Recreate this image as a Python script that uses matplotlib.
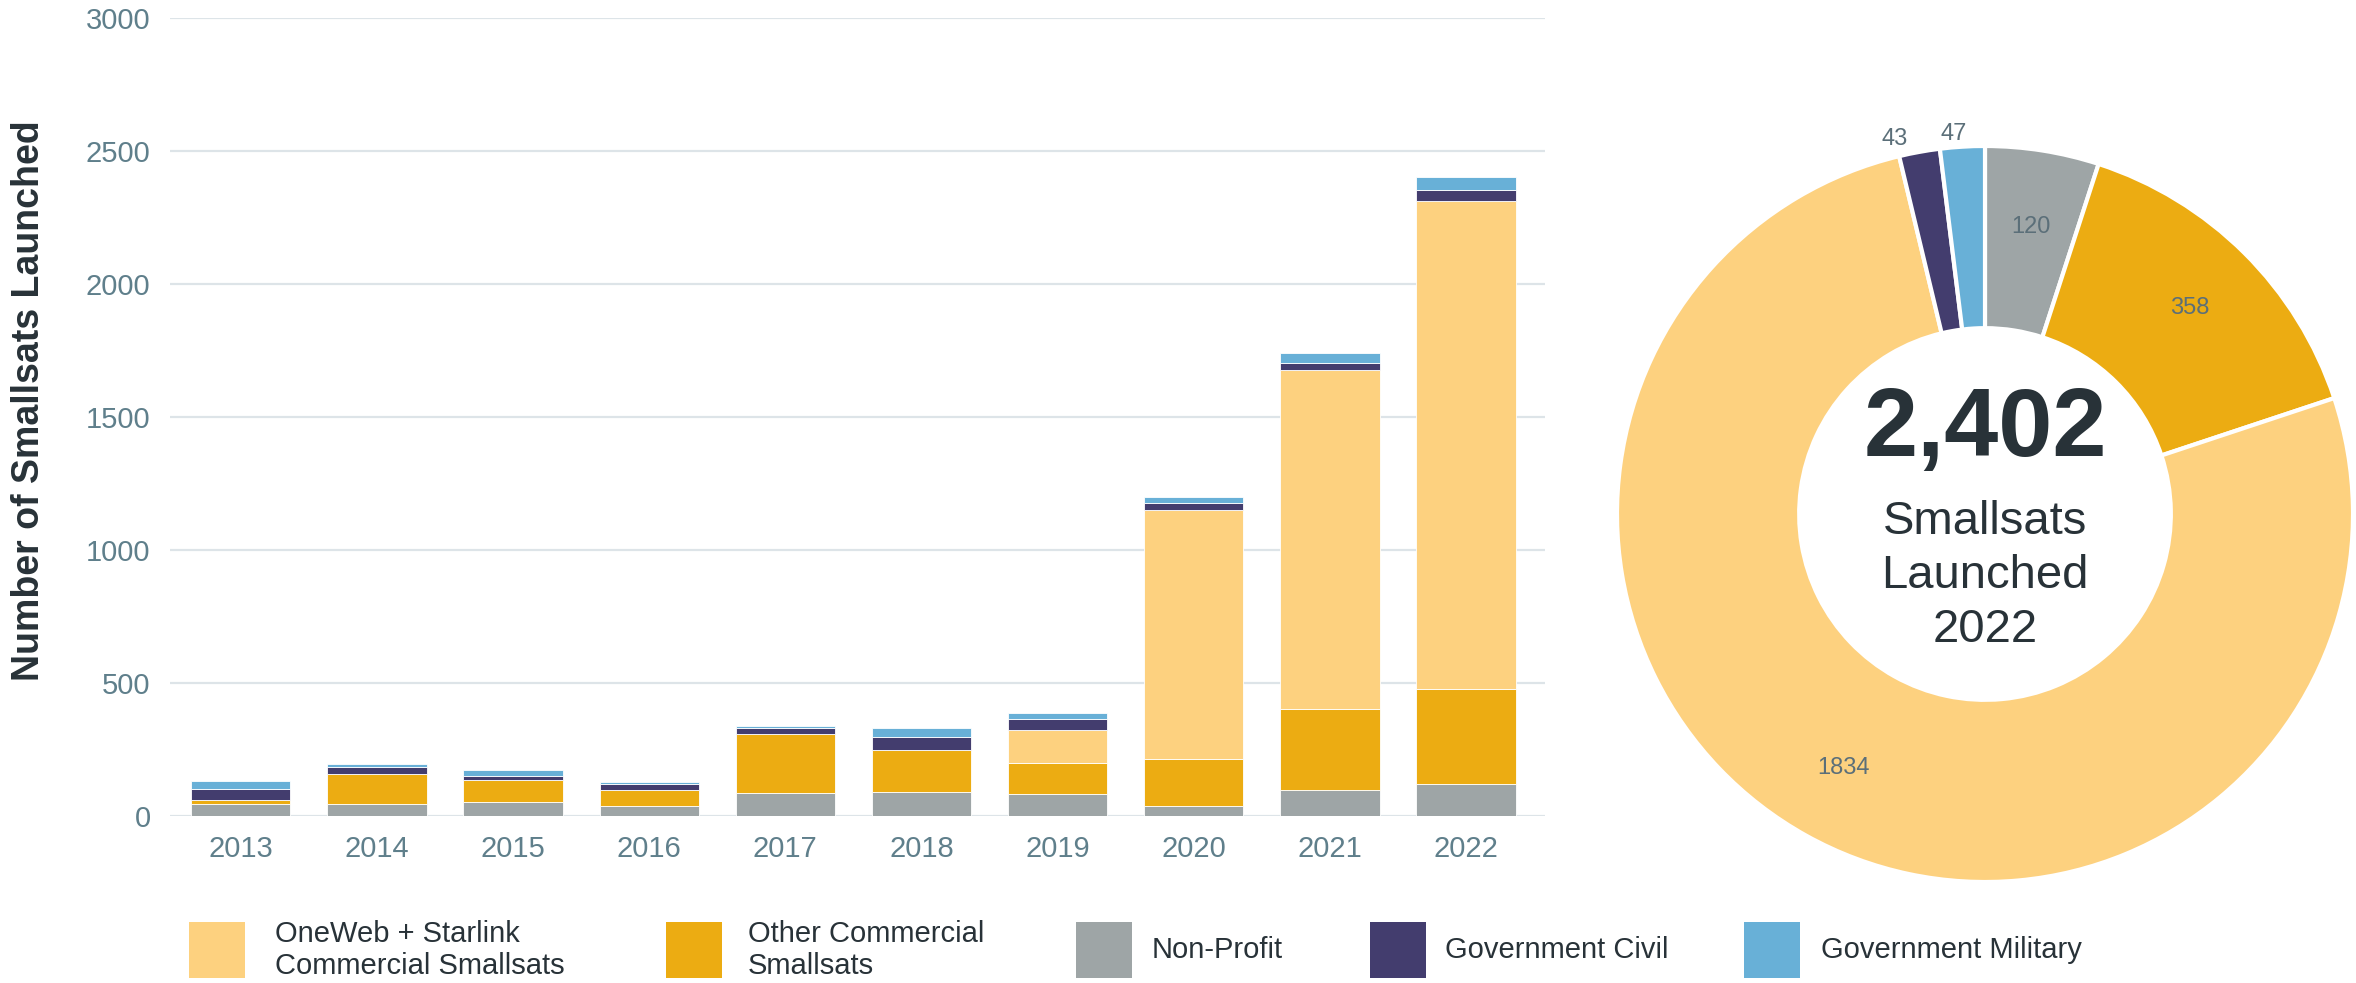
import matplotlib
matplotlib.use('Agg')
import matplotlib.pyplot as plt
from matplotlib.patches import Rectangle
import numpy as np

# ---------------- data ----------------
years = ['2013', '2014', '2015', '2016', '2017', '2018', '2019', '2020', '2021', '2022']
non_profit       = [46, 46, 52, 37, 86, 91, 84, 39, 97, 120]
other_commercial = [16, 113, 82, 62, 221, 156, 115, 175, 305, 358]
oneweb_starlink  = [0, 0, 0, 0, 0, 0, 125, 936, 1274, 1834]
gov_civil        = [38, 26, 18, 21, 22, 50, 41, 25, 26, 43]
gov_military     = [30, 10, 22, 6, 8, 32, 24, 25, 39, 47]

legend_labels = ['OneWeb + Starlink\nCommercial Smallsats', 'Other Commercial\nSmallsats',
                 'Non-Profit', 'Government Civil', 'Government Military']
y_ticks = [0, 500, 1000, 1500, 2000, 2500, 3000]
center_number = '2,402'
center_caption = 'Smallsats\nLaunched\n2022'

# ---------------- style ----------------
C_LIGHT = '#FDD17F'
C_ORANGE = '#ECAC12'
C_GRAY = '#9EA5A6'
C_PURPLE = '#433D6E'
C_BLUE = '#68B0D7'
TICK_COLOR = '#5F7F8B'
DARK = '#283238'
GRID = '#DDE4E8'

plt.rcParams['font.family'] = ['Liberation Sans', 'DejaVu Sans']

W, H = 2356, 983
fig = plt.figure(figsize=(W / 100, H / 100), dpi=100)

# ---------------- stacked bars ----------------
ax = fig.add_axes([170 / W, 167 / H, 1375 / W, 798 / H])
x = np.arange(len(years))
bw = 0.73
stack = [(non_profit, C_GRAY), (other_commercial, C_ORANGE), (oneweb_starlink, C_LIGHT),
         (gov_civil, C_PURPLE), (gov_military, C_BLUE)]
bottom = np.zeros(len(years))
for vals, col in stack:
    v = np.array(vals, dtype=float)
    ax.bar(x, v, bw, bottom=bottom, color=col, edgecolor='white', linewidth=0.6, zorder=3)
    bottom += v

ax.set_xlim(-0.52, len(years) - 1 + 0.58)
ax.set_ylim(0, 3000)
ax.set_yticks(y_ticks)
ax.set_yticklabels([str(t) for t in y_ticks])
ax.set_xticks(x)
ax.set_xticklabels(years)
ax.tick_params(axis='both', length=0, labelsize=21, colors=TICK_COLOR)
ax.tick_params(axis='y', pad=14)
ax.tick_params(axis='x', pad=14)
ax.grid(axis='y', color=GRID, linewidth=1.6, zorder=0)
for s in ax.spines.values():
    s.set_visible(False)
ax.set_ylabel('Number of Smallsats Launched', fontsize=27, fontweight='bold', color=DARK,
              va='center')
ax.yaxis.set_label_coords(-0.1025, 0.52)

# ---------------- donut ----------------
cx, cy, R = 1985, 514, 368
ax2 = fig.add_axes([(cx - R) / W, (H - cy - R) / H, 2 * R / W, 2 * R / H])
pie_vals = [non_profit[-1], other_commercial[-1], oneweb_starlink[-1], gov_civil[-1], gov_military[-1]]
pie_cols = [C_GRAY, C_ORANGE, C_LIGHT, C_PURPLE, C_BLUE]
wedges, _ = ax2.pie(pie_vals, colors=pie_cols, startangle=90, counterclock=False, radius=1,
                    wedgeprops=dict(width=0.495, edgecolor='white', linewidth=3))
ax2.set_xlim(-1, 1)
ax2.set_ylim(-1, 1)
ax2.set_aspect('equal')
ax2.axis('off')
outside_shift = {3: -16, 4: -6}   # small horizontal nudge (points) for outer labels
for i, (w, v) in enumerate(zip(wedges, pie_vals)):
    mid = np.deg2rad((w.theta1 + w.theta2) / 2)
    r = 0.79 if v > 100 else 1.035
    ax2.annotate(str(v), (r * np.cos(mid), r * np.sin(mid)),
                 xytext=(outside_shift.get(i, 0), 0), textcoords='offset points',
                 ha='center', va='center', fontsize=17, color='#5B6F79', annotation_clip=False)

ax2.text(0, 0.226, center_number, ha='center', va='center', fontsize=70, fontweight='bold', color=DARK)
ax2.text(0, -0.168, center_caption, ha='center', va='center', fontsize=34, color=DARK, linespacing=1.29)

# ---------------- legend ----------------
leg_x = [189, 666, 1076, 1370, 1744]
leg_tx = [275, 748, 1152, 1445, 1821]
leg_cols = [C_LIGHT, C_ORANGE, C_GRAY, C_PURPLE, C_BLUE]
sq = 56
ly = 950
for lx, tx, col, lab in zip(leg_x, leg_tx, leg_cols, legend_labels):
    fig.add_artist(Rectangle((lx / W, (H - ly - sq / 2) / H), sq / W, sq / H,
                             transform=fig.transFigure, facecolor=col, edgecolor='none'))
    fig.text(tx / W, (H - ly) / H, lab, ha='left', va='center', fontsize=21,
             color=DARK, linespacing=1.15)

fig.savefig('out.png', dpi=100)
